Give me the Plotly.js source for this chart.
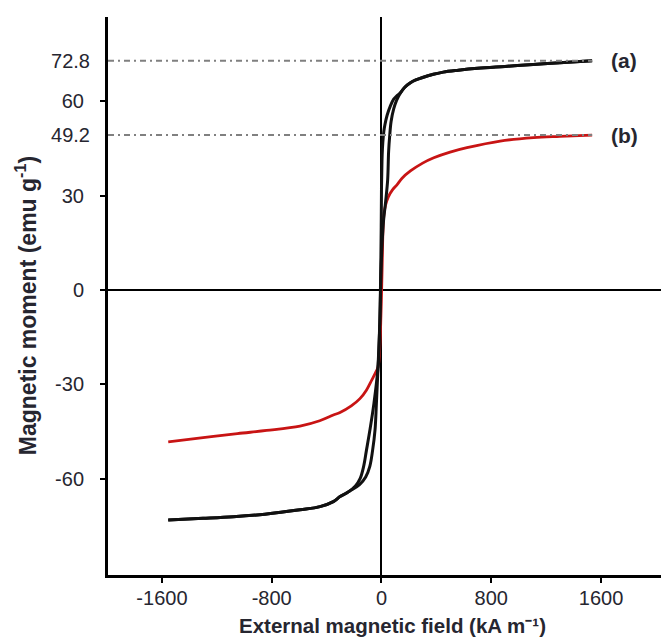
<!DOCTYPE html>
<html>
<head>
<meta charset="utf-8">
<script src="https://cdn.plot.ly/plotly-3.0.1.min.js"></script>
<style>
  html, body { margin: 0; padding: 0; background: #ffffff; }
  #chart { width: 662px; height: 637px; }
</style>
</head>
<body>
<div id="chart"></div>
<script>
// ---- Data ----
// Curve (a): hysteresis loop, descending branch (from +H to -H)
const H_a_desc = [1535, 1300, 1105, 900, 700, 560, 450, 378, 300, 250, 211, 170, 138, 110, 89, 65, 41, 25, 17, 10, 5, 2, 0, -2, -6, -12, -25, -55, -84, -110, -130, -155, -190, -250, -302, -351, -448, -594, -850, -1080, -1300, -1554];
const M_a_desc = [72.8, 72.2, 71.6, 71.0, 70.4, 69.8, 69.2, 68.5, 67.5, 66.7, 65.8, 64.4, 62.6, 61.6, 60.6, 58.5, 55.5, 52.5, 50.3, 47, 43, 37, 32, 20, 5, -10, -24.4, -36, -44.4, -51, -56, -59.8, -62.2, -64.4, -65.6, -67.2, -68.8, -69.8, -71.2, -72.0, -72.5, -73.0];
// Curve (a): ascending branch (from -H to +H)
const H_a_asc = [-1554, -1300, -1080, -850, -594, -448, -351, -302, -230, -160, -115, -85, -65, -47, -37, -25, -12, -4, 5, 15, 30, 45, 52, 60, 70, 89, 110, 138, 170, 211, 250, 300, 378, 450, 560, 700, 900, 1105, 1300, 1535];
const M_a_asc = [-73.0, -72.5, -72.0, -71.2, -69.8, -68.8, -67.2, -65.6, -63.8, -61.8, -59.4, -56, -51, -44.4, -36, -24.4, -10, 5, 15, 22, 28, 35, 44, 49, 53.5, 57.5, 60.2, 62.6, 64.4, 65.8, 66.7, 67.5, 68.5, 69.2, 69.8, 70.4, 71.0, 71.6, 72.2, 72.8];
// Curve (b)
const H_b = [-1554, -1300, -1050, -837, -594, -450, -351, -302, -220, -157, -110, -71, -45, -25, -12, -4, 2, 7, 11, 18, 30, 50, 80, 114, 150, 211, 300, 381, 500, 623, 865, 1108, 1300, 1535];
const M_b = [-48.2, -46.9, -45.6, -44.6, -43.2, -41.5, -39.7, -38.9, -36.8, -34.5, -31.8, -28.6, -26.4, -24.4, -18, -8, 2, 12, 19, 24, 27, 29.6, 31.8, 33.5, 35.5, 37.8, 40.3, 42.0, 43.8, 45.2, 47.3, 48.4, 48.8, 49.2];

// Saturation values marked on the chart
const satValues = [72.8, 49.2];
const satLabels = ['(a)', '(b)'];

// Axis ticks
const xTickVals = [-1600, -800, 0, 800, 1600];
const xTickText = ['-1600', '-800', '0', '800', '1600'];
const yTickVals = [-60, -30, 0, 30, 60];
const yTickText = ['-60', '-30', '0', '30', '60'];
const xRange = [-1993, 2037];
const yRange = [-90.5, 86.7];

const FONT = 'Arial, "Liberation Sans", sans-serif';
const INK = '#262630';

const hEnd = H_a_desc[0];

const traces = [];
// dashed reference lines at saturation values
satValues.forEach(function (v) {
  traces.push({
    x: [xRange[0], hEnd], y: [v, v],
    mode: 'lines', yaxis: 'y2', hoverinfo: 'skip', showlegend: false,
    line: { color: '#808080', width: 2, dash: '6px,4px,2px,4px' }
  });
});
traces.push({
  x: H_b, y: M_b, mode: 'lines', showlegend: false,
  line: { color: '#c81414', width: 2.8, shape: 'spline', smoothing: 1 }
});
traces.push({
  x: H_a_desc, y: M_a_desc, mode: 'lines', showlegend: false,
  line: { color: '#111111', width: 3, shape: 'spline', smoothing: 1 }
});
traces.push({
  x: H_a_asc, y: M_a_asc, mode: 'lines', showlegend: false,
  line: { color: '#111111', width: 3, shape: 'spline', smoothing: 1 }
});

const annotations = satValues.map(function (v, i) {
  return {
    x: hEnd, y: v, xref: 'x', yref: 'y', xanchor: 'left', yanchor: 'middle',
    xshift: 17, showarrow: false, text: '<b>' + satLabels[i] + '</b>',
    font: { family: FONT, size: 21, color: INK }
  };
});
// axis titles placed as annotations for exact positioning
annotations.push({
  xref: 'paper', yref: 'paper', x: 0.5136, y: -0.091, xanchor: 'center', yanchor: 'middle',
  showarrow: false, text: '<b>External magnetic field (kA m\u207B\u00B9)</b>',
  font: { family: FONT, size: 20.5, color: INK }
});
annotations.push({
  xref: 'paper', yref: 'paper', x: -0.148, y: 0.482, xanchor: 'center', yanchor: 'middle',
  textangle: -90, showarrow: false, text: '<b>Magnetic moment (emu g<sup>-1</sup>)</b>',
  font: { family: FONT, size: 23, color: INK }
});

const layout = {
  width: 662, height: 637,
  margin: { l: 108, r: 1, t: 17, b: 62 },
  paper_bgcolor: '#ffffff', plot_bgcolor: '#ffffff',
  showlegend: false,
  xaxis: {
    range: xRange, tickvals: xTickVals, ticktext: xTickText,
    showgrid: false, zeroline: true, zerolinecolor: '#000', zerolinewidth: 2,
    showline: true, linecolor: '#000', linewidth: 3,
    ticks: 'outside', ticklen: 5, tickwidth: 2, tickcolor: '#000',
    ticklabelstandoff: -2,
    tickfont: { family: FONT, size: 20, color: INK },
    automargin: false
  },
  yaxis: {
    range: yRange, tickvals: yTickVals, ticktext: yTickText,
    showgrid: false, zeroline: true, zerolinecolor: '#000', zerolinewidth: 2,
    showline: true, linecolor: '#000', linewidth: 3,
    ticks: 'outside', ticklen: 5, tickwidth: 2, tickcolor: '#000',
    ticklabelstandoff: 12,
    tickfont: { family: FONT, size: 20, color: INK },
    automargin: false
  },
  yaxis2: {
    range: yRange, overlaying: 'y', side: 'left',
    tickvals: satValues, ticktext: satValues.map(String),
    showgrid: false, zeroline: false, showline: false, ticks: '',
    ticklabelstandoff: 17,
    tickfont: { family: FONT, size: 20, color: INK },
    automargin: false
  },
  annotations: annotations
};

Plotly.newPlot('chart', traces, layout, { displayModeBar: false, staticPlot: true });
</script>
</body>
</html>
